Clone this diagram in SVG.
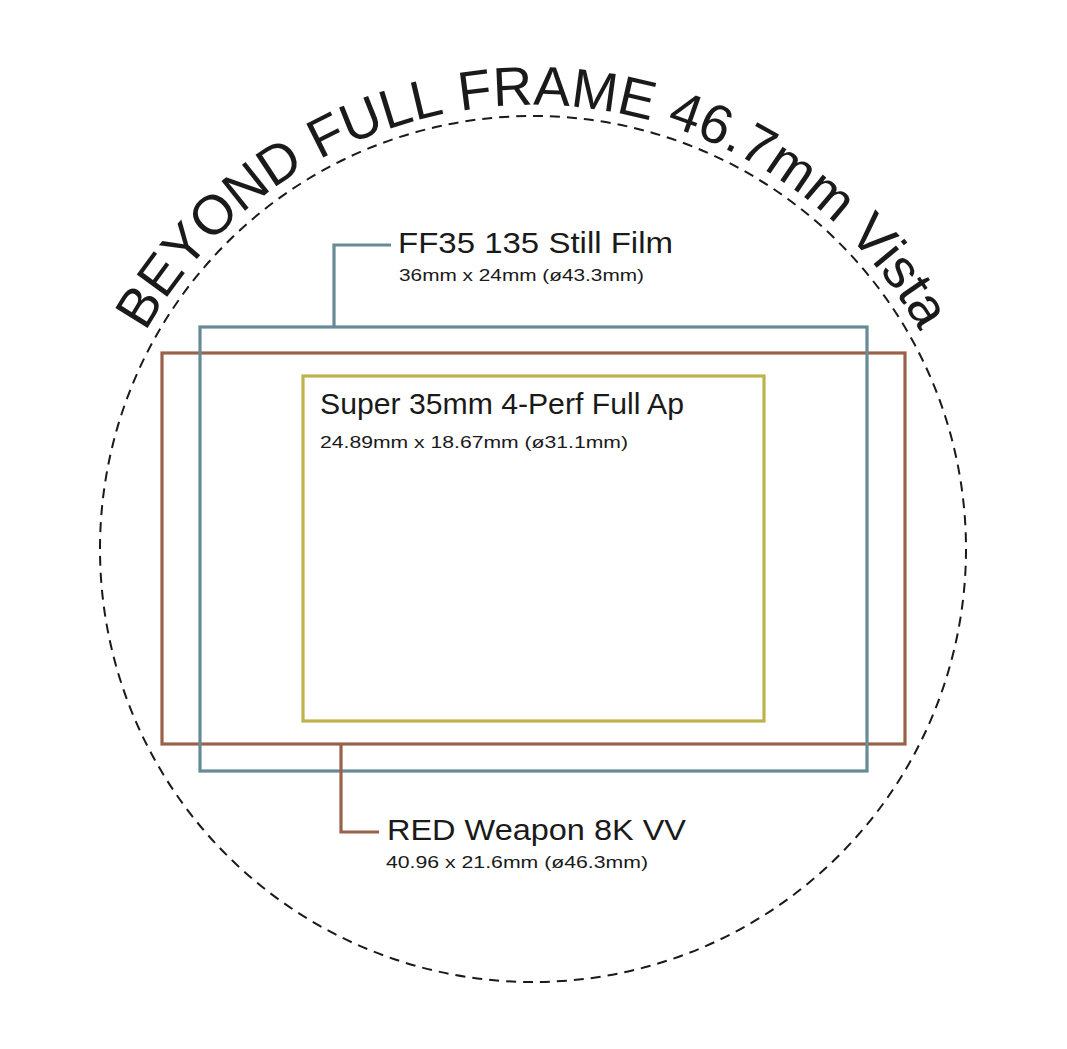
<svg xmlns="http://www.w3.org/2000/svg" width="1067" height="1049" viewBox="0 0 1067 1049">
<defs>
<style>
.txt{font-family:"Liberation Sans",Arial,sans-serif;fill:#1a1a1a}
.arc{font-size:55px}
.title{font-size:29px}
.sub{font-size:17px}
.frame{fill:none;stroke-width:3.2}
.blue{stroke:#668b95}
.orange{stroke:#9a614a}
.yellow{stroke:#bdb34c}
</style>
<path id="arc" d="M 89 549 A 444 444 0 0 1 977 549"/>
</defs>
<rect width="1067" height="1049" fill="#ffffff"/>
<g id="image-circle">
<circle cx="533" cy="549" r="433" fill="none" stroke="#1a1a1a" stroke-width="2" stroke-dasharray="10 7"/>
<text class="txt arc"><textPath href="#arc" startOffset="226.8">BEYOND</textPath></text>
<text class="txt arc"><textPath href="#arc" startOffset="474.4">FULL</textPath></text>
<text class="txt arc"><textPath href="#arc" startOffset="624.1">FRAME</textPath></text>
<text class="txt arc"><textPath href="#arc" startOffset="831.9">46.7mm</textPath></text>
<text class="txt arc"><textPath href="#arc" startOffset="1045.9">Vista</textPath></text>
</g>
<g id="red-weapon-8k-vv">
<rect class="frame orange" x="162" y="353" width="743" height="391"/>
</g>
<g id="ff35-135-still-film">
<rect class="frame blue" x="200" y="327" width="667" height="444"/>
</g>
<g id="super35-4perf">
<rect class="frame yellow" x="303" y="376" width="461" height="345"/>
<text class="txt title" x="320" y="414" textLength="364" lengthAdjust="spacingAndGlyphs">Super 35mm 4-Perf Full Ap</text>
<text class="txt sub" x="320" y="448" textLength="308" lengthAdjust="spacingAndGlyphs">24.89mm x 18.67mm (ø31.1mm)</text>
</g>
<g id="connectors">
<path class="frame blue" d="M 334 327 V 245 H 391"/>
<path class="frame orange" d="M 341 745 V 832 H 379"/>
</g>
<g id="labels">
<text class="txt title" x="398" y="253" textLength="275" lengthAdjust="spacingAndGlyphs">FF35 135 Still Film</text>
<text class="txt sub" x="399" y="281" textLength="245" lengthAdjust="spacingAndGlyphs">36mm x 24mm (ø43.3mm)</text>
<text class="txt title" x="387" y="840" textLength="299" lengthAdjust="spacingAndGlyphs">RED Weapon 8K VV</text>
<text class="txt sub" x="386" y="868" textLength="262" lengthAdjust="spacingAndGlyphs">40.96 x 21.6mm (ø46.3mm)</text>
</g>
</svg>
